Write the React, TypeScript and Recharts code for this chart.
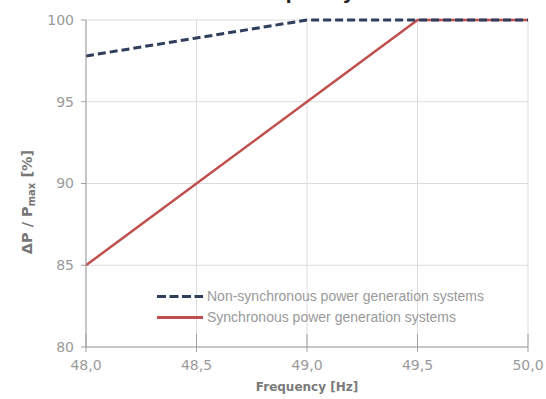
import React from 'react';
import { LineChart, Line, XAxis, YAxis, CartesianGrid, Legend } from 'recharts';

const frequency = [48.0, 48.5, 49.0, 49.5, 50.0];
const nonSynchronous = [97.8, 98.9, 100, 100, 100];
const synchronous = [85, 90, 95, 100, 100];
const xTickValues = [48.0, 48.5, 49.0, 49.5, 50.0];
const xTickLabels = ['48,0', '48,5', '49,0', '49,5', '50,0'];
const yTickValues = [80, 85, 90, 95, 100];
const seriesNames = ['Non-synchronous power generation systems', 'Synchronous power generation systems'];

const data = frequency.map((f, i) => ({ f, nonSync: nonSynchronous[i], sync: synchronous[i] }));

const NAVY = '#2f3e5a';
const RED = '#c0504d';
const TICK_FONT = 'DejaVu Sans, Verdana, sans-serif';

const XTick = (props: any) => {
  const { x, y, payload } = props;
  const idx = xTickValues.indexOf(payload.value);
  const axisY = y - 13;
  return (
    <g>
      <line x1={x} x2={x} y1={axisY - 13} y2={axisY + 5} stroke="#a0a0a0" strokeWidth={1} />
      <text x={x} y={y} dy="0.71em" textAnchor="middle" fill="#9a9a9a" fontSize={14} fontFamily={TICK_FONT}>
        {idx >= 0 ? xTickLabels[idx] : payload.value}
      </text>
    </g>
  );
};

const LegendContent = () => (
  <div style={{ fontFamily: 'Liberation Sans, Arial, sans-serif', fontSize: 14, color: '#9a9a9a', lineHeight: '21px' }}>
    {seriesNames.map((name, i) => (
      <div key={name} style={{ display: 'flex', alignItems: 'center', whiteSpace: 'nowrap' }}>
        <svg width={50} height={21}>
          <line x1={0} x2={46} y1={10.5} y2={10.5} stroke={i === 0 ? NAVY : RED}
            strokeWidth={3} strokeDasharray={i === 0 ? '9 3.5' : undefined} />
        </svg>
        <span>{name}</span>
      </div>
    ))}
  </div>
);

export default function App() {
  return (
    <div style={{ position: 'absolute', left: 0, top: 0, width: 546, height: 399, overflow: 'hidden', background: '#fff' }}>
      <LineChart width={546} height={399} data={data} margin={{ top: 20, right: 18, bottom: 0, left: 0 }}>
        <CartesianGrid stroke="#dcdcdc" strokeWidth={1} />
        <XAxis
          dataKey="f"
          type="number"
          domain={[48, 50]}
          ticks={xTickValues}
          height={52}
          axisLine={{ stroke: '#a0a0a0' }}
          tickLine={false}
          tickSize={5}
          tickMargin={8}
          tick={<XTick />}
          interval={0}
          label={{
            content: (p: any) => {
              const vb = p.viewBox;
              return (
                <text x={vb.x + vb.width / 2} y={vb.y + 44} textAnchor="middle" fill="#7a7a7a"
                  fontSize={12} fontWeight="bold" fontFamily={TICK_FONT}>Frequency [Hz]</text>
              );
            },
          }}
        />
        <YAxis
          type="number"
          domain={[80, 100]}
          ticks={yTickValues}
          width={86}
          interval={0}
          axisLine={{ stroke: '#a0a0a0' }}
          tickLine={{ stroke: '#a0a0a0' }}
          tickSize={5}
          tickMargin={7}
          tick={{ fill: '#9a9a9a', fontSize: 14, fontFamily: TICK_FONT }}
          label={{
            content: () => (
              <text transform="rotate(-90, 27, 202)" x={27} y={202} textAnchor="middle" dominantBaseline="central"
                fill="#777777" fontSize={14.5} fontWeight="bold" fontFamily={TICK_FONT}>
                <tspan>ΔP / P</tspan>
                <tspan fontSize={10} dy={4}>max</tspan>
                <tspan dy={-4}> [%]</tspan>
              </text>
            ),
          }}
        />
        <Legend
          content={<LegendContent />}
          layout="horizontal"
          verticalAlign="middle"
          align="center"
          wrapperStyle={{ left: 157, top: 286, width: 380 }}
        />
        <Line dataKey="sync" name={seriesNames[1]} stroke={RED} strokeWidth={2.5} dot={false} isAnimationActive={false} />
        <Line dataKey="nonSync" name={seriesNames[0]} stroke={NAVY} strokeWidth={3} strokeDasharray="8 4" dot={false} isAnimationActive={false} />
      </LineChart>
      <svg width={546} height={399} style={{ position: 'absolute', left: 0, top: 0, pointerEvents: 'none' }}>
        <text x={244} y={-2} fill="#222" fontSize={22} fontWeight="bold" fontFamily="Liberation Sans, Arial, sans-serif">Frequency</text>
      </svg>
    </div>
  );
}
